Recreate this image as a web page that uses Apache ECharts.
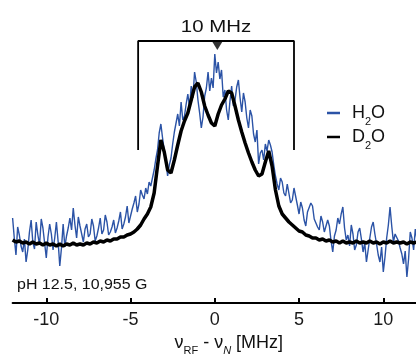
<!DOCTYPE html>
<html>
<head>
<meta charset="utf-8">
<script src="https://cdn.jsdelivr.net/npm/echarts@6/dist/echarts.min.js"></script>
<style>
html,body{margin:0;padding:0;background:#fff;}
#chart{width:416px;height:355px;}
</style>
</head>
<body>
<div id="chart"></div>
<script>
// Frequency offset nu_RF - nu_N [MHz], fine grid for H2O trace
var freqH2O = [
-12,-11.9,-11.8,-11.7,-11.6,-11.5,-11.4,-11.3,-11.2,-11.1,
-11,-10.9,-10.8,-10.7,-10.6,-10.5,-10.4,-10.3,-10.2,-10.1,
-10,-9.9,-9.8,-9.7,-9.6,-9.5,-9.4,-9.3,-9.2,-9.1,
-9,-8.9,-8.8,-8.7,-8.6,-8.5,-8.4,-8.3,-8.2,-8.1,
-8,-7.9,-7.8,-7.7,-7.6,-7.5,-7.4,-7.3,-7.2,-7.1,
-7,-6.9,-6.8,-6.7,-6.6,-6.5,-6.4,-6.3,-6.2,-6.1,
-6,-5.9,-5.8,-5.7,-5.6,-5.5,-5.4,-5.3,-5.2,-5.1,
-5,-4.9,-4.8,-4.7,-4.6,-4.5,-4.4,-4.3,-4.2,-4.1,
-4,-3.9,-3.8,-3.7,-3.6,-3.5,-3.4,-3.3,-3.2,-3.1,
-3,-2.9,-2.8,-2.7,-2.6,-2.5,-2.4,-2.3,-2.2,-2.1,
-2,-1.9,-1.8,-1.7,-1.6,-1.5,-1.4,-1.3,-1.2,-1.1,
-1,-0.9,-0.8,-0.7,-0.6,-0.5,-0.4,-0.3,-0.2,-0.1,
0,0.1,0.2,0.3,0.4,0.5,0.6,0.7,0.8,0.9,
1,1.1,1.2,1.3,1.4,1.5,1.6,1.7,1.8,1.9,
2,2.1,2.2,2.3,2.4,2.5,2.6,2.7,2.8,2.9,
3,3.1,3.2,3.3,3.4,3.5,3.6,3.7,3.8,3.9,
4,4.1,4.2,4.3,4.4,4.5,4.6,4.7,4.8,4.9,
5,5.1,5.2,5.3,5.4,5.5,5.6,5.7,5.8,5.9,
6,6.1,6.2,6.3,6.4,6.5,6.6,6.7,6.8,6.9,
7,7.1,7.2,7.3,7.4,7.5,7.6,7.7,7.8,7.9,
8,8.1,8.2,8.3,8.4,8.5,8.6,8.7,8.8,8.9,
9,9.1,9.2,9.3,9.4,9.5,9.6,9.7,9.8,9.9,
10,10.1,10.2,10.3,10.4,10.5,10.6,10.7,10.8,10.9,
11,11.1,11.2,11.3,11.4,11.5,11.6,11.7,11.8,11.9,
12];

// ENDOR intensity (arb. units), H2O sample
var h2o = [
34.0,26.0,19.2,30.4,27.2,22.8,20.4,25.6,16.4,21.2,
28.4,33.2,24.4,21.6,32.4,27.2,23.2,33.6,30.0,24.0,
18.0,26.4,31.6,27.6,21.2,26.0,32.4,24.8,14.8,22.0,
31.6,22.4,26.8,30.0,34.0,29.2,38.0,31.2,26.0,34.4,
30.8,27.6,24.4,29.6,31.6,26.4,27.6,33.6,30.8,24.8,
26.8,30.0,34.0,27.6,29.2,35.2,32.4,27.2,28.4,30.4,
33.2,28.0,30.0,32.8,36.4,29.6,31.6,34.4,38.8,32.0,
34.8,37.6,40.0,42.8,36.4,39.6,45.2,43.2,41.6,46.0,
43.6,48.4,46.8,50.0,53.2,57.6,61.2,68.0,71.6,66.0,
65.2,56.4,50.8,55.2,58.0,63.6,68.4,72.0,75.6,70.8,
80.4,73.2,74.8,79.6,83.6,78.0,86.8,82.0,92.4,88.4,
81.2,76.0,70.0,74.4,82.8,86.0,92.4,84.8,90.0,86.0,
99.6,92.0,96.4,89.6,93.2,82.4,85.2,77.2,73.2,80.8,
86.8,78.8,81.2,86.4,89.2,82.0,76.4,84.0,80.4,74.0,
70.0,77.2,74.8,67.6,64.4,69.2,55.6,60.0,61.2,57.2,
63.6,60.8,65.2,63.2,60.4,55.2,50.8,47.6,45.2,50.0,
48.4,44.0,42.8,47.6,46.8,40.0,41.2,46.0,45.2,39.2,
35.6,40.4,38.0,33.2,30.8,36.4,35.6,40.0,38.8,33.6,
34.0,30.4,29.2,34.8,32.4,28.4,27.6,33.2,30.8,24.8,
20.4,26.8,29.2,34.0,31.6,35.6,38.4,30.0,25.2,27.2,
22.8,31.2,27.6,21.2,23.2,28.4,30.0,25.6,20.4,24.0,
16.4,21.2,26.0,30.4,32.4,27.6,23.6,19.2,16.4,22.4,
12.4,18.4,26.0,31.2,38.4,30.8,24.4,27.6,28.4,24.8,
22.0,19.6,15.6,20.8,10.4,17.6,28.4,26.0,21.2,29.6,
25.2];

// Frequency grid for D2O trace
var freqD2O = [
-12,-11.8,-11.6,-11.4,-11.2,-11,-10.8,-10.6,-10.4,-10.2,
-10,-9.8,-9.6,-9.4,-9.2,-9,-8.8,-8.6,-8.4,-8.2,
-8,-7.8,-7.6,-7.4,-7.2,-7,-6.8,-6.6,-6.4,-6.2,
-6,-5.8,-5.6,-5.4,-5.2,-5,-4.8,-4.6,-4.4,-4.2,
-4,-3.8,-3.6,-3.4,-3.2,-3,-2.8,-2.6,-2.4,-2.2,
-2,-1.8,-1.6,-1.4,-1.2,-1,-0.8,-0.6,-0.4,-0.2,
0,0.2,0.4,0.6,0.8,1,1.2,1.4,1.6,1.8,
2,2.2,2.4,2.6,2.8,3,3.2,3.4,3.6,3.8,
4,4.2,4.4,4.6,4.8,5,5.2,5.4,5.6,5.8,
6,6.2,6.4,6.6,6.8,7,7.2,7.4,7.6,7.8,
8,8.2,8.4,8.6,8.8,9,9.2,9.4,9.6,9.8,
10,10.2,10.4,10.6,10.8,11,11.2,11.4,11.6,11.8,
12];

// ENDOR intensity (arb. units), D2O sample
var d2o = [
25.2,24.4,24.8,24.0,24.4,23.6,24.4,23.6,24.0,23.2,
24.0,23.2,23.6,22.8,23.6,22.8,23.6,23.2,24.0,23.2,
23.6,23.2,24.0,23.6,24.4,24.0,24.8,24.4,25.2,24.8,
25.6,25.6,26.4,26.4,27.2,27.6,28.4,29.6,31.2,33.6,
35.6,38.4,44.0,54.8,65.2,60.4,53.2,52.0,57.2,63.2,
68.8,72.8,76.0,81.2,86.4,88.0,84.4,78.8,75.2,72.0,
70.8,75.6,79.2,81.6,84.8,84.0,78.8,73.2,68.4,64.0,
60.0,56.4,53.2,50.8,51.6,56.4,60.8,54.8,45.2,38.8,
35.6,34.0,32.4,31.2,30.0,28.8,28.4,27.2,26.8,26.0,
26.0,25.2,25.6,24.8,25.2,24.4,24.8,24.0,24.8,24.0,
24.4,24.0,24.8,24.0,24.4,24.0,24.8,24.0,24.4,23.6,
24.4,24.0,24.8,24.0,24.4,24.0,24.4,23.6,24.4,24.0,
24.4];

var tickValues = [-10, -5, 0, 5, 10];
var seriesNames = ['H2O', 'D2O'];

// 10 MHz bracket annotation (data coordinates)
var bracketX = [-4.55, 4.7];
var bracketY = [61.2, 104.8];
var markerPoint = [0.15, 103];

var FONT = "'Liberation Sans', Arial, sans-serif";

function pairs(xs, ys) {
  return xs.map(function (x, i) { return [x, ys[i]]; });
}

var chart = echarts.init(document.getElementById('chart'), null, {renderer: 'canvas'});

var subRich = {
  m: {fontSize: 18, fontFamily: FONT, color: '#111', lineHeight: 18},
  s: {fontSize: 11, fontFamily: FONT, color: '#111', lineHeight: 28, verticalAlign: 'bottom'},
  si: {fontSize: 11, fontFamily: FONT, color: '#111', lineHeight: 28, verticalAlign: 'bottom', fontStyle: 'italic'}
};

chart.setOption({
  animation: false,
  backgroundColor: '#fff',
  grid: {left: 12.6, width: 404.4, top: 3, height: 300, containLabel: false, outerBoundsMode: 'none'},
  xAxis: {
    type: 'value',
    min: -12,
    max: 12,
    name: '{m|ν}{s|RF}{m| - ν}{si|N}{m| [MHz]}',
    nameLocation: 'middle',
    nameGap: 23,
    nameTextStyle: {padding: [0, 0, 0, 28], rich: subRich},
    axisLine: {show: true, onZero: false, lineStyle: {color: '#000', width: 2}},
    axisTick: {show: true, inside: true, length: 5, customValues: tickValues, lineStyle: {color: '#000', width: 2}},
    axisLabel: {customValues: tickValues, margin: 8, fontSize: 18, fontFamily: FONT, color: '#1a1a1a'},
    splitLine: {show: false}
  },
  yAxis: {type: 'value', min: 0, max: 120, show: false},
  legend: {
    data: seriesNames,
    orient: 'vertical',
    left: 327,
    top: 104,
    padding: 0,
    itemGap: 1,
    icon: 'rect',
    itemWidth: 13,
    itemHeight: 2.5,
    formatter: function (name) {
      return name === 'H2O' ? '{m|H}{s|2}{m|O}' : '{m|D}{s|2}{m|O}';
    },
    textStyle: {padding: [0, 0, 0, 7], rich: subRich}
  },
  graphic: [
    {type: 'text', x: 216, y: 27.5, scaleX: 1.2, style: {text: '10 MHz', font: '17px ' + FONT, fill: '#111', align: 'center', verticalAlign: 'middle'}},
    {type: 'text', x: 17, y: 285, scaleX: 1.14, style: {text: 'pH 12.5, 10,955 G', font: '14px ' + FONT, fill: '#111', align: 'left', verticalAlign: 'middle'}}
  ],
  series: [
    {
      name: 'H2O', type: 'line', showSymbol: false, symbol: 'none',
      data: pairs(freqH2O, h2o),
      lineStyle: {color: '#2B53A6', width: 1.4},
      itemStyle: {color: '#2B53A6'},
      z: 2
    },
    {
      name: 'D2O', type: 'line', showSymbol: false, symbol: 'none',
      data: pairs(freqD2O, d2o),
      lineStyle: {color: '#000', width: 3.5},
      itemStyle: {color: '#000'},
      z: 3
    },
    {
      name: 'bracket', type: 'line', showSymbol: false, symbol: 'none', silent: true,
      data: [[bracketX[0], bracketY[0]], [bracketX[0], bracketY[1]], [bracketX[1], bracketY[1]], [bracketX[1], bracketY[0]]],
      lineStyle: {color: '#000', width: 1.8},
      clip: false,
      z: 4
    },
    {
      name: 'marker', type: 'scatter', silent: true,
      symbol: 'triangle', symbolRotate: 180, symbolSize: [11, 9],
      data: [markerPoint],
      itemStyle: {color: '#000'},
      clip: false,
      z: 5
    }
  ]
});
</script>
</body>
</html>
